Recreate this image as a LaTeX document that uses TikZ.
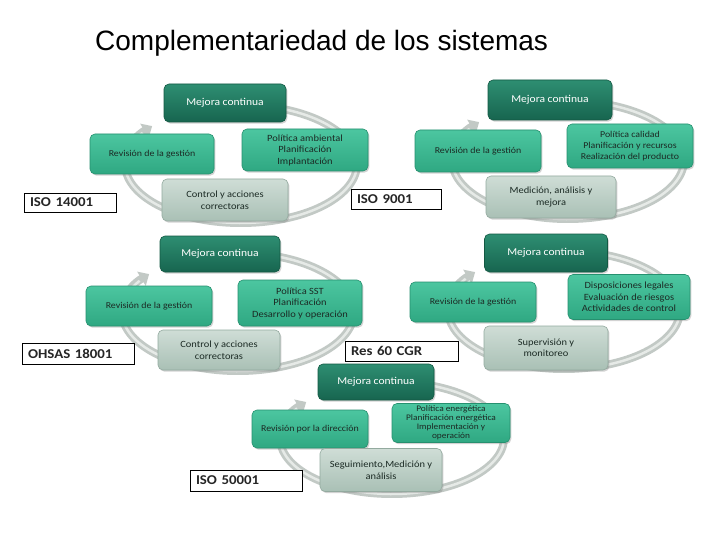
\documentclass[tikz,border=0pt]{standalone}
\usepackage{fontspec}
\setmainfont{Liberation Sans}
\newfontfamily\boxfont[FakeStretch=1.1]{Carlito}
\usetikzlibrary{arrows.meta,shadows}
\definecolor{mejTop}{HTML}{2E8E72}
\definecolor{mejBot}{HTML}{17654F}
\definecolor{mejDraw}{HTML}{135943}
\definecolor{sideTop}{HTML}{4CC6A0}
\definecolor{sideBot}{HTML}{2FA882}
\definecolor{sideDraw}{HTML}{26906F}
\definecolor{lowTop}{HTML}{CFDDD6}
\definecolor{lowBot}{HTML}{A9C0B5}
\definecolor{lowDraw}{HTML}{93AA9F}
\definecolor{txtdark}{HTML}{1C2B25}
\definecolor{ringc}{HTML}{C2C9C5}
\definecolor{ringhi}{HTML}{E6EAE7}
\tikzset{
  base/.style={rounded corners=5pt, inner sep=2pt, align=center, line width=0.6pt,
    font=\boxfont\fontsize{9.5}{11.5}\selectfont,
    drop shadow={shadow xshift=1.3pt, shadow yshift=-1.6pt, opacity=0.35}},
  mej/.style={base, top color=mejTop, bottom color=mejBot, draw=mejDraw, text=white,
    font=\boxfont\fontsize{10.5}{12}\selectfont},
  side/.style={base, top color=sideTop, bottom color=sideBot, draw=sideDraw, text=txtdark},
  low/.style={base, top color=lowTop, bottom color=lowBot, draw=lowDraw, text=txtdark},
  rev/.style={side, font=\boxfont\fontsize{9}{10}\selectfont},
  lab/.style={draw=black, line width=0.8pt, fill=white, inner xsep=6pt, inner ysep=0pt,
    align=left, text=black!85, font=\boxfont\bfseries\fontsize{13.5}{14}\selectfont,
    drop shadow={shadow xshift=0.8pt, shadow yshift=-0.8pt, opacity=0.5, fill=black!70}},
  ringline/.style={draw=ringc, line width=8pt},
  ringhl/.style={draw=ringhi, line width=2.5pt},
}
\newcommand\cyc[4]{%
  \draw[ringline, -{Triangle[width=16pt,length=9pt]}] (#1,#2) ++(260:#3 and #4)
    arc[start angle=260, end angle=580, x radius=#3, y radius=#4];
  \draw[ringhl] (#1,#2) ++(262:#3 and #4)
    arc[start angle=262, end angle=572, x radius=#3, y radius=#4];
}
\begin{document}
\begin{tikzpicture}[x=1pt,y=-1pt]
\useasboundingbox (0,0) rectangle (720,540);
\fill[white] (0,0) rectangle (720,540);

\node[anchor=base west, inner sep=0pt, font=\fontsize{28}{30}\selectfont] (title) at (95,51) {Complementariedad de los sistemas};

% ---- Diagram 1: ISO 14001
\cyc{241}{164}{116}{59}
\node[mej, minimum width=122pt, minimum height=38pt] (m1) at (225,103) {Mejora continua};
\node[rev, minimum width=124pt, minimum height=40pt] (r1) at (152,154) {Revisión de la gestión};
\node[side, minimum width=126pt, minimum height=42pt] (p1) at (305,150) {Política ambiental\\Planificación\\Implantación};
\node[low, minimum width=126pt, minimum height=42pt] (c1) at (225,200) {Control y acciones\\correctoras};

% ---- Diagram 2: ISO 9001
\cyc{568}{160}{116}{59}
\node[mej, minimum width=124pt, minimum height=40pt] (m2) at (550,100) {Mejora continua};
\node[rev, minimum width=126pt, minimum height=42pt] (r2) at (478,151) {Revisión de la gestión};
\node[side, minimum width=126pt, minimum height=44pt, font=\boxfont\fontsize{9}{11}\selectfont] (p2) at (630,146) {Política calidad\\Planificación y recursos\\Realización del producto};
\node[low, minimum width=130pt, minimum height=42pt] (c2) at (551,197) {Medición, análisis y\\mejora};

% ---- Diagram 3: OHSAS 18001
\cyc{238}{312}{116}{59}
\node[mej, minimum width=120pt, minimum height=36pt] (m3) at (220,254) {Mejora continua};
\node[rev, minimum width=126pt, minimum height=40pt] (r3) at (149,306) {Revisión de la gestión};
\node[side, minimum width=124pt, minimum height=46pt] (p3) at (300,303) {Política SST\\Planificación\\Desarrollo y operación};
\node[low, minimum width=122pt, minimum height=40pt] (c3) at (219,350) {Control y acciones\\correctoras};

% ---- Diagram 4: Res 60 CGR
\cyc{564}{310}{116}{59}
\node[mej, minimum width=123pt, minimum height=38pt] (m4) at (546,253) {Mejora continua};
\node[rev, minimum width=126pt, minimum height=40pt] (r4) at (473,302) {Revisión de la gestión};
\node[side, minimum width=122pt, minimum height=45pt] (p4) at (629,297) {Disposiciones legales\\Evaluación de riesgos\\Actividades de control};
\node[low, minimum width=124pt, minimum height=44pt] (c4) at (546,348) {Supervisión y\\monitoreo};

% ---- Diagram 5: ISO 50001
\cyc{392}{438}{112}{56}
\node[mej, minimum width=116pt, minimum height=36pt] (m5) at (376,382) {Mejora continua};
\node[rev, minimum width=116pt, minimum height=38pt] (r5) at (310,429) {Revisión por la dirección};
\node[side, minimum width=118pt, minimum height=39pt, font=\boxfont\fontsize{8.5}{9}\selectfont] (p5) at (451,423) {Política energética\\Planificación energética\\Implementación y\\operación};
\node[low, minimum width=122pt, minimum height=43pt] (c5) at (381,470) {Seguimiento,Medición y\\análisis};

% ---- Labels
\node[lab, minimum height=19pt, text width=80pt] (l1) at (70,202.5) {ISO 14001};
\node[lab, minimum height=20pt, text width=78pt] (l2) at (396,199.5) {ISO 9001};
\node[lab, minimum height=21pt, text width=100pt] (l3) at (78,353.5) {OHSAS 18001};
\node[lab, minimum height=20pt, text width=101pt] (l4) at (401.5,351) {Res 60 CGR};
\node[lab, minimum height=21pt, text width=100pt] (l5) at (246,480.5) {ISO 50001};
\end{tikzpicture}
\end{document}
